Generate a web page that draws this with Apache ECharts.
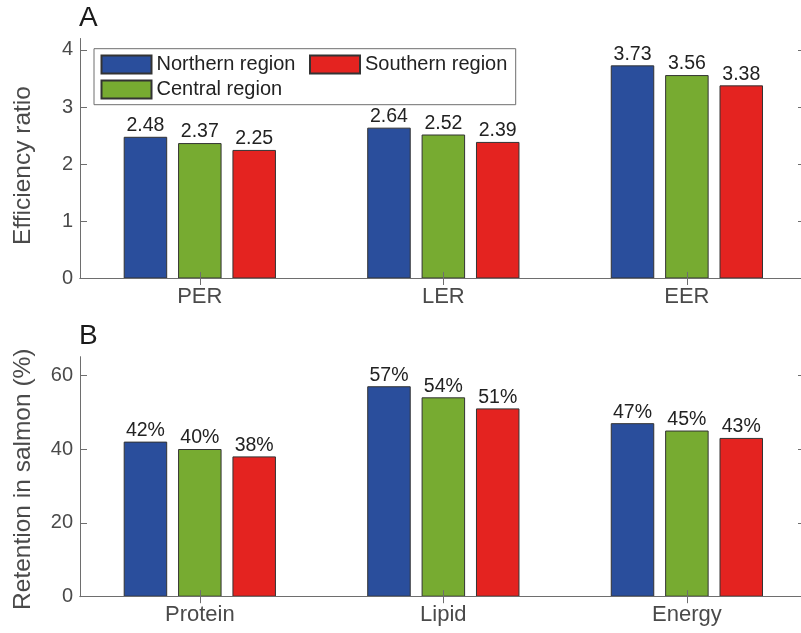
<!DOCTYPE html>
<html>
<head>
<meta charset="utf-8">
<title>Feed efficiency and nutrient retention by region</title>
<script src="https://cdn.jsdelivr.net/npm/echarts@6/dist/echarts.min.js"></script>
<style>
  html, body { margin: 0; padding: 0; background: #ffffff; }
  #chart { width: 801px; height: 633px; }
</style>
</head>
<body>
<div id="chart"></div>
<script>
// Regions (series) and their bar colours
const regionNames = ['Northern region', 'Central region', 'Southern region'];
const regionColors = ['#2a4e9c', '#77ab31', '#e42320'];

// Panel A: efficiency ratios
const ratioCategories = ['PER', 'LER', 'EER'];
const ratioNorthern = [2.48, 2.64, 3.73];
const ratioCentral = [2.37, 2.52, 3.56];
const ratioSouthern = [2.25, 2.39, 3.38];
const ratioTicks = [0, 1, 2, 3, 4];

// Panel B: retention in salmon (%)
const retentionCategories = ['Protein', 'Lipid', 'Energy'];
const retentionNorthern = [42, 57, 47];
const retentionCentral = [40, 54, 45];
const retentionSouthern = [38, 51, 43];
const retentionTicks = [0, 20, 40, 60];

// Group positions along the x axis (1 = first category)
const groupPositions = [1, 2, 3];

const FONT = '"Liberation Sans", Arial, Helvetica, sans-serif';
const FRAME = '#6e6e6e';
const TICK_TEXT = '#4a4a4a';

const chart = echarts.init(document.getElementById('chart'), null, { renderer: 'canvas' });

function frameXAxes(gridIndex, categories) {
  const common = {
    type: 'value',
    gridIndex: gridIndex,
    min: 0.508,
    max: 3.485,
    splitLine: { show: false },
    axisLine: { show: true, lineStyle: { color: FRAME, width: 1 } },
    axisTick: { show: true, inside: true, length: 6.5, customValues: groupPositions,
                lineStyle: { color: FRAME, width: 1 } },
    z: 5
  };
  return [
    Object.assign({}, common, {
      position: 'bottom',
      axisLabel: {
        show: true, customValues: groupPositions, margin: 7,
        fontFamily: FONT, fontSize: 22, color: TICK_TEXT,
        formatter: v => categories[Math.round(v) - 1]
      }
    }),
    Object.assign({}, common, {
      position: 'top',
      axisLabel: { show: false }
    })
  ];
}

function frameYAxes(gridIndex, max, ticks, name, namePadding) {
  const common = {
    type: 'value',
    gridIndex: gridIndex,
    min: 0,
    max: max,
    splitLine: { show: false },
    axisLine: { show: true, lineStyle: { color: FRAME, width: 1 } },
    axisTick: { show: true, inside: true, length: 7, customValues: ticks,
                lineStyle: { color: FRAME, width: 1 } },
    z: 5
  };
  return [
    Object.assign({}, common, {
      position: 'left',
      name: name,
      nameLocation: 'middle',
      nameGap: 44,
      nameTextStyle: { fontFamily: FONT, fontSize: 24.5, color: TICK_TEXT, padding: namePadding },
      axisLabel: {
        show: true, customValues: ticks, margin: 7,
        fontFamily: FONT, fontSize: 20, color: TICK_TEXT
      }
    }),
    Object.assign({}, common, {
      position: 'right',
      axisLabel: { show: false }
    })
  ];
}

function barSeries(name, color, values, xIndex, yIndex, fmt) {
  return {
    type: 'bar',
    name: name,
    xAxisIndex: xIndex,
    yAxisIndex: yIndex,
    barWidth: 43.5,
    barGap: '25%',
    data: values.map((v, i) => [groupPositions[i], v]),
    itemStyle: { color: color, borderColor: '#333333', borderWidth: 1 },
    label: {
      show: true, position: 'top', distance: 1,
      fontFamily: FONT, fontSize: 19.5, color: '#222222',
      formatter: p => fmt(p.value[1])
    },
    emphasis: { disabled: true }
  };
}

const ratioSets = [ratioNorthern, ratioCentral, ratioSouthern];
const retentionSets = [retentionNorthern, retentionCentral, retentionSouthern];

const series = [];
regionNames.forEach((n, k) => {
  series.push(barSeries(n, regionColors[k], ratioSets[k], 0, 0, v => v.toFixed(2)));
});
regionNames.forEach((n, k) => {
  series.push(barSeries(n, regionColors[k], retentionSets[k], 2, 2, v => v + '%'));
});

const legendCommon = {
  orient: 'horizontal',
  padding: 0,
  itemWidth: 50,
  itemHeight: 18,
  icon: 'rect',
  selectedMode: false,
  textStyle: { fontFamily: FONT, fontSize: 20, color: '#222222' },
  z: 10
};

const option = {
  animation: false,
  backgroundColor: '#ffffff',
  title: [
    { text: 'A', left: 79, top: 4, padding: 0,
      textStyle: { fontFamily: FONT, fontSize: 28, fontWeight: 'normal', color: '#1a1a1a' } },
    { text: 'B', left: 79, top: 322, padding: 0,
      textStyle: { fontFamily: FONT, fontSize: 28, fontWeight: 'normal', color: '#1a1a1a' } }
  ],
  grid: [
    { left: 80, top: 38.5, width: 725, height: 240, outerBoundsMode: 'none', containLabel: false },
    { left: 80, top: 356.7, width: 725, height: 240, outerBoundsMode: 'none', containLabel: false }
  ],
  xAxis: frameXAxes(0, ratioCategories).concat(frameXAxes(1, retentionCategories)),
  yAxis: frameYAxes(0, 4.2, ratioTicks, 'Efficiency ratio', [0, 14, 0, 0])
    .concat(frameYAxes(1, 65, retentionTicks, 'Retention in salmon (%)', [0, 5, 0, 0])),
  legend: [
    Object.assign({}, legendCommon, { data: [regionNames[0]], left: 100.5, top: 54.5 }),
    Object.assign({}, legendCommon, { data: [regionNames[2]], left: 309, top: 54.5 }),
    Object.assign({}, legendCommon, { data: [regionNames[1]], left: 100.5, top: 79.5 })
  ],
  graphic: [
    {
      type: 'rect', z: 8, silent: true,
      shape: { x: 94, y: 48.7, width: 421.7, height: 56 },
      style: { fill: '#ffffff', stroke: FRAME, lineWidth: 1 }
    }
  ],
  series: series
};

chart.setOption(option);
</script>
</body>
</html>
